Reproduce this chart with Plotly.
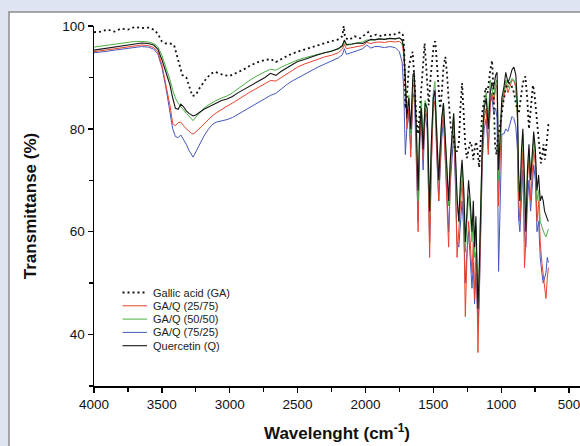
import plotly.graph_objects as go

# ---------------- data ----------------
# shared wavenumber grid for Quercetin and GA/Q mixtures
wn_hi = [4000, 3950, 3900, 3850, 3800, 3750, 3700, 3650, 3600, 3560,
         3530, 3500, 3470, 3440, 3420, 3400, 3380, 3360, 3340, 3320,
         3300, 3280, 3270, 3250, 3220, 3190, 3160, 3130, 3100, 3060,
         3020, 2980, 2940, 2900, 2860, 2820, 2780, 2740, 2700, 2660,
         2620, 2580, 2540, 2500, 2450, 2400, 2350, 2300, 2250, 2200,
         2170, 2155, 2140, 2100, 2060, 2020, 1990, 1960, 1930, 1900,
         1860, 1820, 1780, 1750, 1730, 1718]
wn_fp = [1706, 1695, 1680, 1666, 1650, 1640, 1625, 1612, 1600, 1588,
         1575, 1560, 1545, 1527, 1515, 1500, 1488, 1475, 1460, 1450,
         1438, 1425, 1410, 1398, 1387, 1375, 1362, 1350, 1338, 1325,
         1312, 1300, 1288, 1275, 1264, 1252, 1240, 1228, 1215, 1205,
         1196, 1186, 1178, 1171, 1162, 1150, 1138, 1125, 1110, 1095,
         1080, 1068, 1055, 1040, 1030, 1019, 1008, 995, 980, 966,
         950, 935, 920, 906, 892, 880, 872, 862, 850, 840,
         828, 818, 806, 795, 783, 772, 760, 748, 736, 724,
         712, 700, 690, 680, 670, 660, 652]

q_hi = [95.3, 95.5, 95.7, 96.0, 96.2, 96.4, 96.6, 96.7, 96.6, 96.3,
        95.5, 93.5, 91.0, 88.5, 86.0, 84.0, 83.8, 84.8, 84.3, 83.5,
        83.0, 82.6, 82.5, 82.7, 83.3, 83.8, 84.2, 84.6, 85.0, 85.5,
        85.8, 86.3, 87.0, 87.6, 88.2, 88.8, 89.4, 90.0, 90.8, 90.4,
        91.2, 91.8, 92.5, 93.1, 93.5, 94.0, 94.4, 94.8, 95.1, 95.6,
        96.2, 97.3, 96.4, 96.5, 96.7, 96.6, 97.0, 97.4, 97.3, 97.5,
        97.4, 97.6, 97.5, 97.7, 97.3, 95.8]
q_fp = [90, 82, 86, 80, 90.5, 91, 80, 68, 80, 84,
        76, 85, 84, 64, 77, 86, 87.4, 79, 70, 76,
        82, 85, 77, 72, 66, 74, 80, 83, 76, 67,
        62, 70, 74, 68, 58, 64, 70, 66, 60, 66,
        57, 63, 55, 45, 52, 68, 78, 84, 86, 80,
        87, 89, 88, 90.5, 91, 72, 78, 86, 88, 91,
        89, 90, 91.5, 92, 90.5, 85, 72, 66, 76, 80,
        70, 60, 72, 77, 70, 74, 79.5, 76, 68, 71,
        66, 67, 66, 64, 63, 62.5, 62]

r25_hi = [95.0, 95.2, 95.4, 95.6, 95.8, 96.0, 96.2, 96.3, 96.2, 95.8,
          95.0, 92.5, 88.5, 84.5, 81.0, 80.6, 81.2, 81.3, 80.6, 80.0,
          79.5, 79.1, 79.0, 79.4, 80.2, 81.0, 81.8, 82.5, 83.1, 83.8,
          84.4, 85.0, 85.7, 86.3, 87.0, 87.6, 88.2, 88.9, 89.4, 89.3,
          90.0, 90.6, 91.4, 92.0, 92.6, 93.1, 93.6, 94.0, 94.3, 94.8,
          95.5, 96.4, 95.6, 95.8, 96.0, 96.2, 96.8, 96.6, 96.8, 96.9,
          96.8, 97.0, 96.9, 97.0, 96.5, 94.5]
r25_fp = [88, 80, 84, 74.5, 88, 89, 78, 60, 78, 83,
          74, 84, 82, 55, 72, 84, 85.4, 76, 66, 73,
          80, 83, 74, 66, 57, 70, 78, 81, 72, 55,
          60, 66, 70, 62, 43.5, 55, 62, 58, 52, 58,
          47, 56, 50, 36.5, 48, 64, 76, 82, 84, 75,
          85, 87, 85, 88, 88.5, 65, 74, 84, 86, 89,
          87, 88.5, 89.5, 89.3, 88, 82, 67, 62, 72, 76,
          53, 58, 70, 74, 66, 71, 76, 73, 62, 66,
          58, 54, 52, 50, 47, 51, 53]

r50_hi = [95.9, 96.1, 96.3, 96.5, 96.7, 96.8, 97.0, 97.0, 96.9, 96.6,
          96.0, 94.3, 92.0, 89.5, 87.5, 86.0, 85.0, 84.3, 83.6, 83.0,
          82.5, 81.9, 81.6, 82.3, 83.2, 84.0, 84.6, 85.1, 85.5, 86.0,
          86.4, 87.0, 87.8, 88.6, 89.3, 90.0, 90.6, 91.1, 91.6, 91.4,
          92.0, 92.5, 93.0, 93.4, 93.8, 94.2, 94.5, 94.8, 95.1, 95.5,
          96.0, 96.8, 96.2, 96.5, 96.7, 96.9, 97.3, 97.2, 97.4, 97.5,
          97.4, 97.6, 97.5, 97.6, 97.2, 95.5]
r50_fp = [90, 83, 86.5, 79, 89.5, 90, 81, 66, 81, 85.5,
          78, 85.5, 84, 63, 76, 87, 89.2, 80, 70, 76,
          82, 85, 76, 70, 65, 73, 79, 83, 75, 66,
          62, 69, 73, 66, 56, 62, 67, 64, 58, 63,
          55, 61, 54, 47, 53, 68, 79, 85, 87, 82,
          89.5, 88, 86, 89, 89.5, 70, 77, 85, 87, 89.5,
          88, 89, 89.8, 89.5, 88.5, 82, 70, 66, 75, 79,
          68, 62, 72, 76, 71, 74, 78, 75, 66, 68,
          62, 61, 60, 59.5, 59, 60, 60.5]

r75_hi = [94.8, 94.9, 95.1, 95.3, 95.5, 95.7, 95.9, 96.0, 95.9, 95.5,
          94.6, 92.0, 88.0, 83.5, 80.0, 78.5, 78.3, 78.8, 78.0, 77.0,
          75.8, 74.8, 74.5, 75.5, 77.2, 78.6, 79.8, 80.8, 81.3, 81.5,
          81.8, 82.2, 82.8, 83.4, 84.0, 84.7, 85.3, 85.8, 86.5, 86.9,
          87.8, 88.6, 89.3, 89.9, 90.6, 91.3, 92.0, 92.6, 93.2, 93.8,
          94.4, 95.6, 94.5, 94.8, 95.2, 95.6, 96.3, 95.7, 96.0, 96.0,
          95.8, 96.0, 95.8, 95.0, 93.0, 88.0]
r75_fp = [75, 80, 83, 76, 86, 87, 75, 62, 77, 82,
          72, 83, 80, 58, 73, 86, 87.6, 75, 66, 72,
          78, 82, 72, 67, 60, 69, 75, 79, 70, 58,
          57, 62, 66, 60, 50, 56, 60, 55, 49, 54,
          46, 52, 48, 42, 46, 62, 74, 80, 82, 76,
          85, 86.3, 83, 84, 82, 52.3, 68, 79, 79, 80,
          79.5, 81, 82.4, 82, 80.5, 76, 62.7, 60, 68, 72,
          60, 57, 66, 70, 64, 68, 73, 70, 60, 62,
          55, 52, 50, 51, 52, 55, 54]

# gallic acid (own wavenumber grid)
wn_ga = [4000, 3950, 3900, 3850, 3800, 3750, 3700, 3650, 3600, 3560,
         3530, 3500, 3470, 3440, 3410, 3380, 3350, 3320, 3300, 3275,
         3250, 3220, 3180, 3140, 3110, 3080, 3040, 3000, 2960, 2900,
         2850, 2800, 2750, 2700, 2660, 2620, 2560, 2500, 2440, 2380,
         2320, 2260, 2200, 2170, 2160, 2150, 2120, 2080, 2040, 2000,
         1980, 1960, 1920, 1880, 1840, 1800, 1770, 1740, 1725,
         1715, 1705, 1695, 1680, 1665, 1652, 1640, 1625, 1612, 1598,
         1585, 1575, 1564, 1552, 1540, 1534, 1520, 1505, 1495, 1485,
         1472, 1460, 1450, 1440, 1425, 1411, 1400, 1385, 1370, 1355,
         1340, 1325, 1312, 1300, 1288, 1278, 1265, 1252, 1240, 1228,
         1215, 1205, 1195, 1185, 1175, 1162, 1150, 1140, 1128, 1115,
         1100, 1090, 1080, 1067, 1057, 1045, 1035, 1025, 1010, 1000,
         985, 965, 945, 925, 905, 885, 870, 855, 840, 822,
         808, 795, 783, 766, 755, 745, 733, 720, 707, 697,
         688, 678, 668, 658, 650]
t_ga = [98.8, 98.9, 99.3, 98.9, 99.5, 99.3, 99.8, 99.6, 99.7, 99.3,
        98.5, 97.0, 96.6, 96.6, 96.3, 93.5, 90.5, 90.0, 88.5, 86.4,
        86.6, 88.0, 89.5, 90.7, 91.1, 90.8, 90.4, 90.3, 90.8, 91.5,
        92.3, 92.9, 93.3, 93.6, 93.0, 93.6, 94.4, 95.0, 95.5, 96.1,
        96.6, 97.0, 97.4, 98.0, 100.0, 97.7, 97.3, 98.0, 97.6, 98.4,
        98.8, 98.0, 98.3, 98.0, 98.4, 98.2, 98.6, 98.8, 98.3,
        96, 84, 86, 92, 94, 95, 90, 82, 79, 84,
        90, 94, 96.6, 92, 86, 84.6, 90, 95, 96.8, 97,
        92, 86, 84, 86, 92, 94, 91, 85, 80, 79,
        76, 75.6, 77, 84, 88.9, 84, 77, 74.3, 76, 77.5,
        76.5, 74, 76, 77.5, 76, 72.5, 78, 83, 85, 88,
        87, 89.8, 91.5, 93.3, 88, 77, 75, 78, 80, 82,
        85, 88, 89, 88.5, 87, 84, 83, 86, 89, 90.2,
        86, 80, 84, 88.5, 87, 84, 80, 76, 73.3, 75,
        77, 74, 76, 79, 81.5]

series_names = ["Gallic acid (GA)", "GA/Q (25/75)", "GA/Q (50/50)", "GA/Q (75/25)", "Quercetin (Q)"]
x_ticks = [4000, 3500, 3000, 2500, 2000, 1500, 1000, 500]
y_ticks = [40, 60, 80, 100]

# ---------------- styling ----------------
wn_mix = wn_hi + wn_fp
colors = {"GA": "#111111", "25": "#e8432f", "50": "#4bb043", "75": "#4657bb", "Q": "#151515"}
ga_dash = "2px,3px"

fig = go.Figure()
fig.add_trace(go.Scatter(x=wn_mix, y=r75_hi + r75_fp, mode="lines", name=series_names[3],
                         line=dict(color=colors["75"], width=1)))
fig.add_trace(go.Scatter(x=wn_mix, y=r25_hi + r25_fp, mode="lines", name=series_names[1],
                         line=dict(color=colors["25"], width=1)))
fig.add_trace(go.Scatter(x=wn_mix, y=r50_hi + r50_fp, mode="lines", name=series_names[2],
                         line=dict(color=colors["50"], width=1)))
fig.add_trace(go.Scatter(x=wn_mix, y=q_hi + q_fp, mode="lines", name=series_names[4],
                         line=dict(color=colors["Q"], width=1.1)))
fig.add_trace(go.Scatter(x=wn_ga, y=t_ga, mode="lines", name=series_names[0],
                         line=dict(color=colors["GA"], width=1.8, dash=ga_dash)))

W, H = 580, 446
ml, mr, mt, mb = 94, 0, 26, 60
pw, ph = W - ml - mr, H - mt - mb

def px2paper_x(px):
    return (px - ml) / pw

def py2paper_y(py):
    return (H - mb - py) / ph

shapes = [dict(type="rect", xref="paper", yref="paper", layer="below",
               x0=px2paper_x(9), x1=px2paper_x(600), y0=py2paper_y(470), y1=py2paper_y(12),
               fillcolor="white", line=dict(color="#8c8c8c", width=1.5))]
annotations = []
legend_rows = [292.5, 305.8, 319.1, 332.4, 345.7]
legend_styles = [(colors["GA"], ga_dash, 1.8), (colors["25"], "solid", 1), (colors["50"], "solid", 1),
                 (colors["75"], "solid", 1), (colors["Q"], "solid", 1.1)]
for name, py, (c, d, w) in zip(series_names, legend_rows, legend_styles):
    yp = py2paper_y(py)
    shapes.append(dict(type="line", xref="paper", yref="paper", x0=px2paper_x(122.5), x1=px2paper_x(147),
                       y0=yp, y1=yp, line=dict(color=c, width=w, dash=d)))
    annotations.append(dict(xref="paper", yref="paper", x=px2paper_x(151), y=yp, xanchor="left",
                            yanchor="middle", text=name, showarrow=False,
                            font=dict(family="Liberation Sans, Arial", size=11, color="#222")))

fig.update_layout(
    width=W, height=H,
    margin=dict(l=ml, r=mr, t=mt, b=mb, pad=0),
    paper_bgcolor="#dfe4f2", plot_bgcolor="white",
    showlegend=False, hovermode=False,
    shapes=shapes, annotations=annotations,
    font=dict(family="Liberation Sans, Arial", color="#111"),
)
fig.update_xaxes(range=[4000, 419], tickvals=x_ticks, ticks="outside", ticklen=5, tickwidth=1.3,
                 tickcolor="black", showline=True, linecolor="black", linewidth=1.5,
                 showgrid=False, zeroline=False, tickfont=dict(size=13.5),
                 ticklabeloverflow="allow",
                 minor=dict(dtick=250, tick0=0, ticks="outside", ticklen=4, tickcolor="black", tickwidth=1.3),
                 title=dict(text="<b>Wavelenght (cm<sup>-1</sup>)</b>", font=dict(size=17), standoff=16))
fig.update_yaxes(range=[30, 100], tickvals=y_ticks, ticks="outside", ticklen=5, tickwidth=1.3,
                 tickcolor="black", showline=True, linecolor="black", linewidth=1.5,
                 showgrid=False, zeroline=False, tickfont=dict(size=13.5),
                 minor=dict(dtick=10, tick0=0, ticks="outside", ticklen=4, tickcolor="black", tickwidth=1.3),
                 title=dict(text="<b>Transmittanse (%)</b>", font=dict(size=17), standoff=21))

fig.write_html("out.html", config={"displayModeBar": False, "staticPlot": True},
               post_script="document.body.style.margin='0';document.body.style.overflow='hidden';")
